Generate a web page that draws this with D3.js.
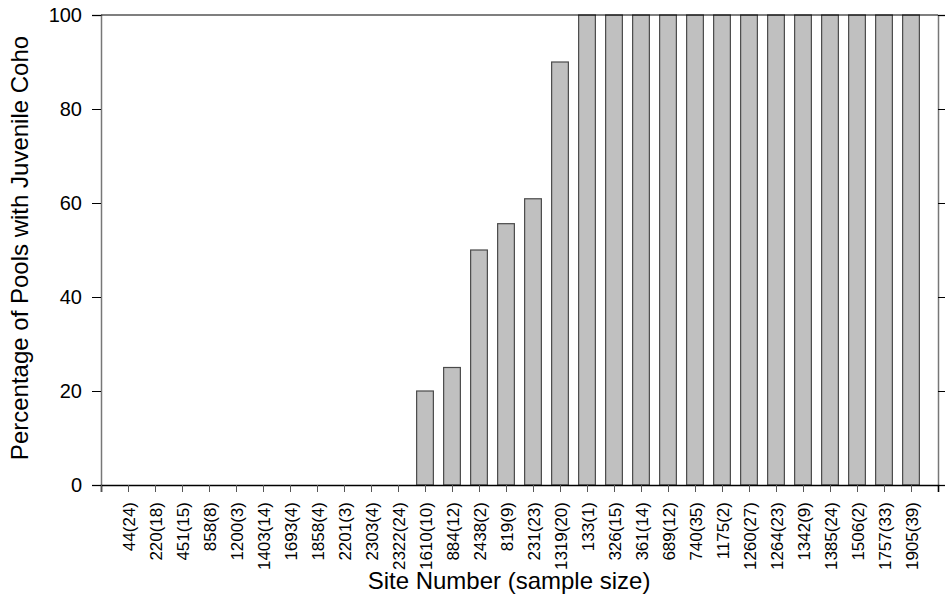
<!DOCTYPE html>
<html>
<head>
<meta charset="utf-8">
<script src="https://cdn.jsdelivr.net/npm/d3@7"></script>
<style>
  body { margin: 0; background: #fff; }
  svg { display: block; font-family: Arial, "Liberation Sans", sans-serif; }
</style>
</head>
<body>
<svg width="945" height="603"></svg>
<script>
// site labels with sample size, in plotted order
var sites = ["44(24)", "220(18)", "451(15)", "858(8)", "1200(3)", "1403(14)", "1693(4)",
  "1858(4)", "2201(3)", "2303(4)", "2322(24)", "1610(10)", "884(12)", "2438(2)", "819(9)",
  "231(23)", "1319(20)", "133(1)", "326(15)", "361(14)", "689(12)", "740(35)", "1175(2)",
  "1260(27)", "1264(23)", "1342(9)", "1385(24)", "1506(2)", "1757(33)", "1905(39)"];

// percentage of pools with juvenile coho
var percents = [0, 0, 0, 0, 0, 0, 0, 0, 0, 0, 0, 20, 25, 50, 55.6, 60.9, 90,
  100, 100, 100, 100, 100, 100, 100, 100, 100, 100, 100, 100, 100];

var yTicks = [0, 20, 40, 60, 80, 100];

var svg = d3.select("svg");
var plotL = 101, plotR = 938, plotT = 15, plotB = 485;

// bars sit at 1..n, with half a slot of room each side
var x = d3.scaleLinear().domain([0, sites.length + 1]).range([plotL, plotR]);
var y = d3.scaleLinear().domain([0, 100]).range([plotB, plotT]);
var step = x(1) - x(0);
var barW = step * 0.62;

// bars
svg.append("g")
  .selectAll("rect")
  .data(percents)
  .enter().append("rect")
    .attr("x", function(d, i) { return x(i + 1) - barW / 2; })
    .attr("y", function(d) { return y(d); })
    .attr("width", barW)
    .attr("height", function(d) { return y(0) - y(d); })
    .attr("fill", "#c0c0c0")
    .attr("stroke", "#4a4a4a")
    .attr("stroke-width", 1.2);

// left axis
var yAxis = svg.append("g")
  .attr("transform", "translate(" + plotL + ",0)")
  .call(d3.axisLeft(y).tickValues(yTicks).tickSize(9).tickPadding(10));
yAxis.select(".domain").attr("stroke", "#777").attr("stroke-width", 1.5);
yAxis.selectAll(".tick line").attr("stroke", "#000");
yAxis.selectAll("text").attr("font-size", 20).attr("fill", "#000");

// right axis, ticks only
var yAxisR = svg.append("g")
  .attr("transform", "translate(" + plotR + ",0)")
  .call(d3.axisRight(y).tickValues(yTicks).tickSize(8).tickFormat(""));
yAxisR.select(".domain").attr("stroke", "#777").attr("stroke-width", 1.5);
yAxisR.selectAll(".tick line").attr("stroke", "#000");

// top frame line
svg.append("line")
  .attr("x1", plotL).attr("x2", plotR)
  .attr("y1", plotT).attr("y2", plotT)
  .attr("stroke", "#000").attr("stroke-width", 1.2);

// bottom axis
var xAxis = svg.append("g")
  .attr("transform", "translate(0," + plotB + ")")
  .call(d3.axisBottom(x)
    .tickValues(d3.range(0, sites.length + 1))
    .tickSize(7)
    .tickFormat(function(d) { return d === 0 ? "" : sites[d - 1]; }));
xAxis.select(".domain").attr("stroke", "#000").attr("stroke-width", 1.6);
xAxis.selectAll(".tick line").attr("stroke", "#555");
xAxis.selectAll("text")
  .attr("font-size", 17)
  .attr("fill", "#000")
  .attr("text-anchor", "end")
  .attr("transform", "rotate(-90)")
  .attr("x", -17)
  .attr("y", 0)
  .attr("dy", "0.36em");

// axis titles
svg.append("text")
  .attr("x", 509)
  .attr("y", 589)
  .attr("text-anchor", "middle")
  .attr("font-size", 24)
  .text("Site Number (sample size)");

svg.append("text")
  .attr("transform", "translate(28," + ((plotT + plotB) / 2 - 2) + ") rotate(-90)")
  .attr("text-anchor", "middle")
  .attr("font-size", 24)
  .text("Percentage of Pools with Juvenile Coho");
</script>
</body>
</html>
